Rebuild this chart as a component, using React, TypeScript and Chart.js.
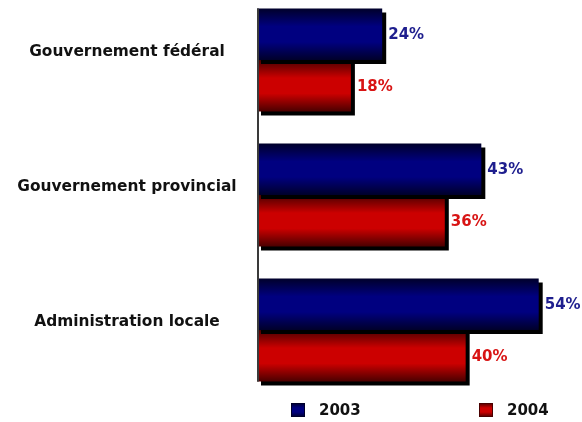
import React, { useEffect, useRef } from "react";
import { Chart, registerables } from "chart.js";

Chart.register(...registerables);

const categories = ["Gouvernement fédéral", "Gouvernement provincial", "Administration locale"];
const series2003 = [24, 43, 54];
const series2004 = [18, 36, 40];
const seriesLabels = ["2003", "2004"];
const xMax = 60;

const CATEGORY_PCT = 0.763;
const blueStops = ["#00002a", "#000080", "#000080", "#00002a"];
const redStops = ["#4a0000", "#cc0000", "#cc0000", "#4a0000"];
const labelColors = ["#1e1e8e", "#d81414"];
const FONT = "'DejaVu Sans', sans-serif";

function makeGradient(c: CanvasRenderingContext2D, x0: number, y0: number, x1: number, y1: number, stops: string[]) {
  const g = c.createLinearGradient(x0, y0, x1, y1);
  g.addColorStop(0, stops[0]);
  g.addColorStop(0.35, stops[1]);
  g.addColorStop(0.65, stops[2]);
  g.addColorStop(1, stops[3]);
  return g;
}

const barGradient = (stops: string[]) => (ctx: any) => {
  const chart = ctx.chart;
  const y = chart.scales && chart.scales.y;
  if (!y || ctx.dataIndex === undefined) return stops[1];
  const center = y.getPixelForValue(ctx.dataIndex);
  const step = Math.abs(y.getPixelForValue(1) - y.getPixelForValue(0));
  if (!isFinite(center) || !isFinite(step) || step === 0) return stops[1];
  const total = step * CATEGORY_PCT;
  const n = chart.data.datasets.length;
  const each = total / n;
  const top = center - total / 2 + ctx.datasetIndex * each;
  return makeGradient(chart.ctx, 0, top, 0, top + each, stops);
};

const decorPlugin = {
  id: "decor",
  beforeDatasetsDraw(chart: any) {
    const c = chart.ctx;
    c.save();
    c.shadowColor = "#000000";
    c.shadowOffsetX = 4;
    c.shadowOffsetY = 4;
    c.shadowBlur = 0;
  },
  afterDatasetsDraw(chart: any) {
    const c = chart.ctx;
    c.restore();
    const y = chart.scales.y;
    const area = chart.chartArea;
    const m0 = chart.getDatasetMeta(0).data[0] as any;
    const lastMeta = chart.getDatasetMeta(chart.data.datasets.length - 1);
    const mL = lastMeta.data[lastMeta.data.length - 1] as any;
    const topY = m0.y - m0.height / 2;
    const botY = mL.y + mL.height / 2;
    c.save();
    c.strokeStyle = "#3a3a3a";
    c.lineWidth = 2;
    c.beginPath();
    c.moveTo(area.left + 1, topY);
    c.lineTo(area.left + 1, botY);
    c.stroke();
    c.restore();

    c.save();
    c.font = `bold 15px ${FONT}`;
    c.textBaseline = "middle";
    c.textAlign = "left";
    chart.data.datasets.forEach((ds: any, di: number) => {
      const meta = chart.getDatasetMeta(di);
      meta.data.forEach((el: any, i: number) => {
        c.fillStyle = labelColors[di];
        c.fillText(`${ds.data[i]}%`, el.x + 6, el.y + 1);
      });
    });
    c.restore();

    c.save();
    c.font = `bold 15.4px ${FONT}`;
    c.fillStyle = "#111111";
    c.textAlign = "center";
    c.textBaseline = "middle";
    categories.forEach((lab, i) => {
      c.fillText(lab, 127, y.getPixelForValue(i) - 8);
    });
    c.restore();

    c.save();
    c.font = `bold 15px ${FONT}`;
    c.textBaseline = "middle";
    c.textAlign = "left";
    const legendX = [291, 479];
    const legendStops = [blueStops, redStops];
    const ly = 403;
    seriesLabels.forEach((lab, i) => {
      const lx = legendX[i];
      c.fillStyle = makeGradient(c, 0, ly, 0, ly + 14, legendStops[i]);
      c.fillRect(lx, ly, 14, 14);
      c.strokeStyle = legendStops[i][0];
      c.lineWidth = 1;
      c.strokeRect(lx + 0.5, ly + 0.5, 13, 13);
      c.fillStyle = "#111111";
      c.fillText(lab, lx + 28, ly + 8);
    });
    c.restore();
  },
};

export default function App() {
  const ref = useRef<HTMLCanvasElement | null>(null);
  useEffect(() => {
    if (!ref.current) return;
    const chart = new Chart(ref.current, {
      type: "bar",
      data: {
        labels: categories,
        datasets: [
          {
            label: seriesLabels[0],
            data: series2003,
            backgroundColor: barGradient(blueStops),
            borderWidth: 0,
            clip: false as any,
          },
          {
            label: seriesLabels[1],
            data: series2004,
            backgroundColor: barGradient(redStops),
            borderWidth: 0,
            clip: false as any,
          },
        ],
      },
      options: {
        indexAxis: "y",
        responsive: false,
        animation: false,
        events: [],
        datasets: { bar: { categoryPercentage: CATEGORY_PCT, barPercentage: 1 } },
        layout: { padding: { left: 257, right: 12, top: 60, bottom: 92 } },
        scales: {
          x: { display: false, min: 0, max: xMax },
          y: { display: false, offset: false },
        },
        plugins: { legend: { display: false }, tooltip: { enabled: false } },
      },
      plugins: [decorPlugin],
    });
    return () => chart.destroy();
  }, []);
  return (
    <div style={{ position: "fixed", left: 0, top: 0, width: 582, height: 422, background: "#ffffff" }}>
      <canvas ref={ref} width={582} height={422} />
    </div>
  );
}
